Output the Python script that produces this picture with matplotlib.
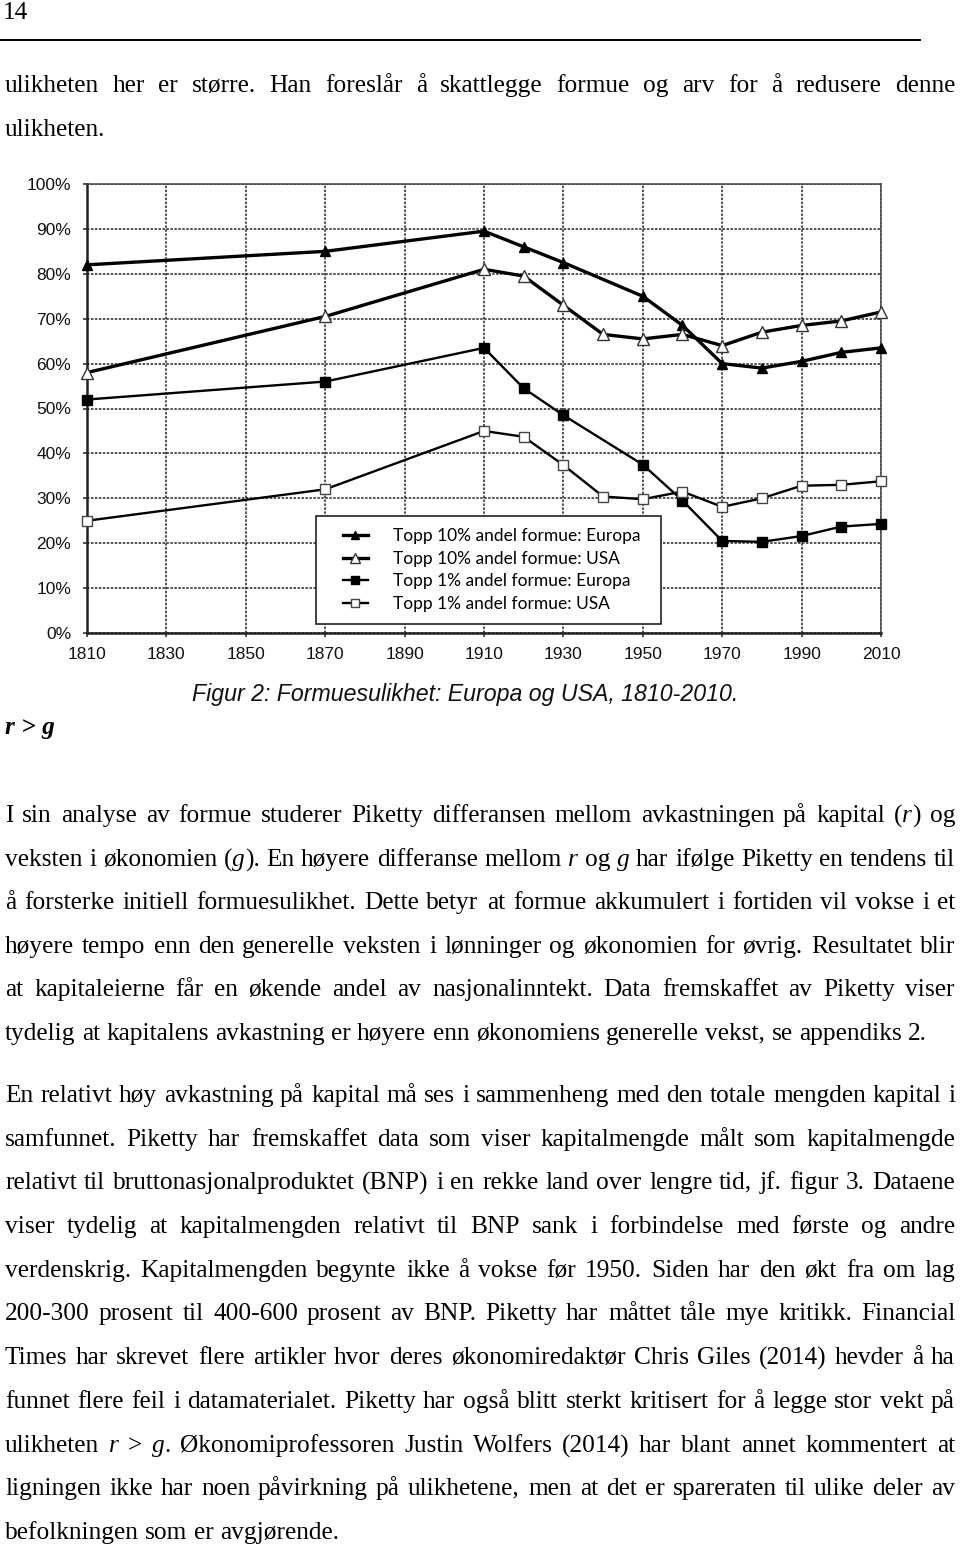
import math
import matplotlib
matplotlib.use("Agg")
import matplotlib.pyplot as plt
from matplotlib.lines import Line2D
from matplotlib.ticker import PercentFormatter
from matplotlib.legend_handler import HandlerLine2D
from matplotlib.font_manager import FontProperties
from matplotlib import font_manager
from matplotlib.backends.backend_agg import get_hinting_flag

# data (percent of total wealth)
years_europa = [1810, 1870, 1910, 1920, 1930, 1950, 1960, 1970, 1980, 1990, 2000, 2010]
years_usa = [1810, 1870, 1910, 1920, 1930, 1940, 1950, 1960, 1970, 1980, 1990, 2000, 2010]
top10_europa = [82, 85, 89.5, 86, 82.5, 75, 68.5, 60, 59, 60.5, 62.5, 63.5]
top10_usa = [58, 70.5, 81, 79.5, 73, 66.5, 65.5, 66.5, 64, 67, 68.5, 69.5, 71.5]
top1_europa = [52, 56, 63.5, 54.5, 48.5, 37.5, 29.5, 20.5, 20.3, 21.6, 23.7, 24.3]
top1_usa = [25, 32, 45, 43.7, 37.4, 30.4, 29.8, 31.5, 28.1, 30, 32.8, 33, 33.8]

labels = ["Topp 10% andel formue: Europa", "Topp 10% andel formue: USA",
          "Topp 1% andel formue: Europa", "Topp 1% andel formue: USA"]
x_ticks = list(range(1810, 2011, 20))
y_ticks = list(range(0, 101, 10))

top_text = ["ulikheten her er større. Han foreslår å skattlegge formue og arv for å redusere denne",
            "ulikheten."]
caption = "Figur 2: Formuesulikhet: Europa og USA, 1810-2010."
heading = "r > g"
# words between underscores are set in italics
para1 = ["I sin analyse av formue studerer Piketty differansen mellom avkastningen på kapital (_r_) og",
         "veksten i økonomien (_g_). En høyere differanse mellom _r_ og _g_ har ifølge Piketty en tendens til",
         "å forsterke initiell formuesulikhet. Dette betyr at formue akkumulert i fortiden vil vokse i et",
         "høyere tempo enn den generelle veksten i lønninger og økonomien for øvrig. Resultatet blir",
         "at kapitaleierne får en økende andel av nasjonalinntekt. Data fremskaffet av Piketty viser",
         "tydelig at kapitalens avkastning er høyere enn økonomiens generelle vekst, se appendiks 2."]
para2 = ["En relativt høy avkastning på kapital må ses i sammenheng med den totale mengden kapital i",
         "samfunnet. Piketty har fremskaffet data som viser kapitalmengde målt som kapitalmengde",
         "relativt til bruttonasjonalproduktet (BNP) i en rekke land over lengre tid, jf. figur 3. Dataene",
         "viser tydelig at kapitalmengden relativt til BNP sank i forbindelse med første og andre",
         "verdenskrig. Kapitalmengden begynte ikke å vokse før 1950. Siden har den økt fra om lag",
         "200-300 prosent til 400-600 prosent av BNP. Piketty har måttet tåle mye kritikk. Financial",
         "Times har skrevet flere artikler hvor deres økonomiredaktør Chris Giles (2014) hevder å ha",
         "funnet flere feil i datamaterialet. Piketty har også blitt sterkt kritisert for å legge stor vekt på",
         "ulikheten _r_ > _g_. Økonomiprofessoren Justin Wolfers (2014) har blant annet kommentert at",
         "ligningen ikke har noen påvirkning på ulikhetene, men at det er spareraten til ulike deler av",
         "befolkningen som er avgjørende."]

W, H = 960, 1548
SERIF = "Liberation Serif"

fig = plt.figure(figsize=(W / 100, H / 100), dpi=100)
fig.patch.set_facecolor("white")
renderer = fig.canvas.get_renderer()


def fy(y):
    return 1 - y / H


def width_of(s, size, family=SERIF, style="normal", weight="normal"):
    t = fig.text(0, 0, s, fontsize=size, family=family, style=style, weight=weight)
    w = t.get_window_extent(renderer).width
    t.remove()
    return w


def baseline_shift(s, size, style):
    # Agg places each string's bitmap by its own glyph box, which moves words
    # by a pixel up or down; work out that offset so every word sits on one line
    try:
        font = renderer._prepare_font(FontProperties(family=SERIF, style=style, size=size))
        font.set_text(s, 0, flags=get_hinting_flag())
        d = font.get_descent()
        _, h = font.get_width_height()
        return round(d / 64) + math.floor((h - d) / 64) - h // 64
    except Exception:
        return 0


def parse(word):
    parts = word.split("_")
    return [(p, i % 2 == 1) for i, p in enumerate(parts) if p]


def put_line(line, y, size, justify, x0=5, x1=955):
    y = round(y)
    words = line.split(" ")
    measured = []
    for w in words:
        segs = [(s, it, width_of(s, size, style="italic" if it else "normal")) for s, it in parse(w)]
        measured.append(segs)
    widths = [sum(s[2] for s in segs) for segs in measured]
    space = width_of("a a", size) - width_of("aa", size)
    if justify and len(words) > 1:
        gap = (x1 - x0 - sum(widths)) / (len(words) - 1)
    else:
        gap = space
    x = x0
    for segs, ww in zip(measured, widths):
        xx = x
        for s, it, sw in segs:
            style = "italic" if it else "normal"
            e = baseline_shift(s, size, style)
            fig.text(round(xx) / W, fy(y - e), s, fontsize=size, family=SERIF,
                     style=style, va="baseline", ha="left")
            xx += sw
        x += ww + gap


# body font size fitted to the natural width of the last line of paragraph 1
body_size = 18 * 923 / width_of(para1[-1], 18)

# page header
fig.text(3 / W, fy(19), "14", fontsize=body_size, family=SERIF, va="baseline")
fig.add_artist(Line2D([0, 920 / W], [fy(40), fy(40)], color="black", lw=1.4))

put_line(top_text[0], 92, body_size, True)
put_line(top_text[1], 136, body_size, False)

for i, line in enumerate(para1):
    put_line(line, 822 + i * 43.6, body_size, i < len(para1) - 1)
for i, line in enumerate(para2):
    put_line(line, 1102 + i * 43.7, body_size, i < len(para2) - 1)

fig.text(5 / W, fy(734), heading, fontsize=body_size, family=SERIF, style="italic",
         weight="bold", va="baseline")

# caption
cap_family = ["Liberation Sans Narrow", "Liberation Sans"]
try:
    font_manager.findfont(font_manager.FontProperties(family="Liberation Sans Narrow"),
                          fallback_to_default=False)
except Exception:
    cap_family = ["Liberation Sans"]
cap_size = 16 * 548 / width_of(caption, 16, family=cap_family, style="italic")
fig.text(465 / W, fy(701), caption, fontsize=cap_size, family=cap_family, style="italic",
         ha="center", va="baseline", color="#111111")

# chart
ax = fig.add_axes([87 / W, fy(633), 794 / W, 449 / H])
ax.set_xlim(1810, 2010)
ax.set_ylim(0, 100)
ax.set_xticks(x_ticks)
ax.set_yticks(y_ticks)
ax.yaxis.set_major_formatter(PercentFormatter(decimals=0))
ax.grid(True, color="#222222", linestyle=(0, (1.6, 1.0)), linewidth=1.1)
ax.set_axisbelow(True)
for side in ["top", "right"]:
    ax.spines[side].set_color("#444444")
    ax.spines[side].set_linewidth(1.1)
for side in ["left", "bottom"]:
    ax.spines[side].set_color("#222222")
    ax.spines[side].set_linewidth(1.8)
ax.tick_params(axis="both", length=3, width=1.2, color="#333333", labelsize=12.5,
               labelcolor="#111111")
ax.tick_params(axis="x", pad=7)
ax.tick_params(axis="y", pad=8.5)
for lab in ax.get_xticklabels() + ax.get_yticklabels():
    lab.set_family("Liberation Sans")

ax.plot(years_europa, top10_europa, color="black", lw=2.4, marker="^", ms=7.5,
        mfc="black", mec="black", label=labels[0], clip_on=False, zorder=4)
ax.plot(years_usa, top10_usa, color="black", lw=2.4, marker="^", ms=8.5,
        mfc="white", mec="#333333", mew=1.0, label=labels[1], clip_on=False, zorder=4)
ax.plot(years_europa, top1_europa, color="black", lw=1.7, marker="s", ms=7,
        mfc="black", mec="black", label=labels[2], clip_on=False, zorder=4)
ax.plot(years_usa, top1_usa, color="black", lw=1.7, marker="s", ms=7.5,
        mfc="white", mec="#444444", mew=1.0, label=labels[3], clip_on=False, zorder=4)

leg_fs = 12.5
leg_px = leg_fs * 100 / 72
pad_px = 12
handler = HandlerLine2D(xpad=15 / leg_px)
leg = ax.legend(loc="upper left",
                bbox_to_anchor=((316 - 87) / 794, (633 - 626) / 449, 345 / 794, 110 / 449),
                mode="expand", frameon=True, fancybox=False, framealpha=1,
                edgecolor="#222222", prop={"family": "Lato", "size": leg_fs},
                handlelength=40 / leg_px, handletextpad=25 / leg_px,
                borderpad=pad_px / leg_px, labelspacing=0.38, borderaxespad=0,
                numpoints=1, markerscale=0.85,
                handler_map={Line2D: handler})
leg.get_frame().set_linewidth(1.2)

fig.savefig("out.png", dpi=100, facecolor="white")
